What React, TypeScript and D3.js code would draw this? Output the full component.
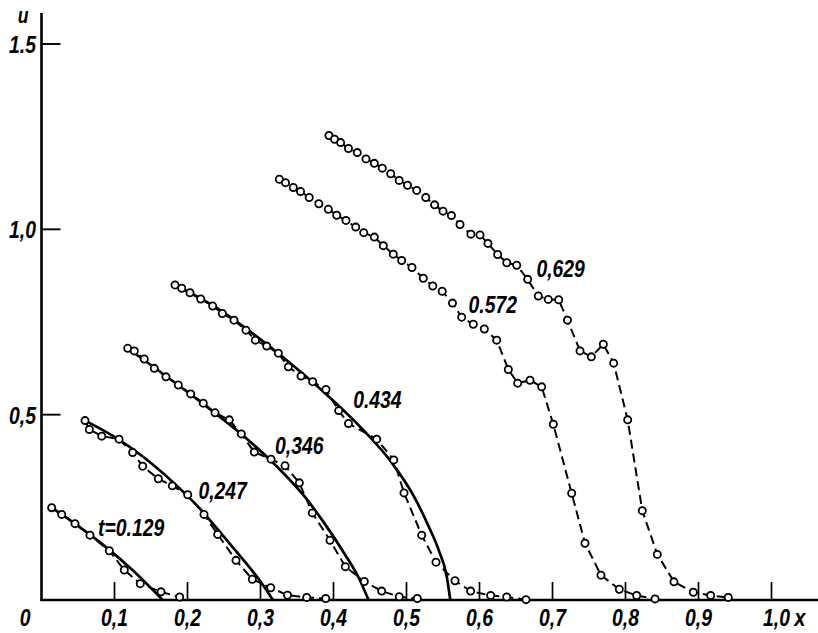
import React from "react";
import * as d3 from "d3";

// ---- data (x, u) ----
const xTicks = [0.1, 0.2, 0.3, 0.4, 0.5, 0.6, 0.7, 0.8, 0.9, 1.0];
const xTickLabels = ["0,1", "0,2", "0,3", "0,4", "0,5", "0,6", "0,7", "0,8", "0,9", "1,0"];
const yTicks = [0.5, 1.0, 1.5];
const yTickLabels = ["0,5", "1,0", "1.5"];

const t129: [number, number][] = [
  [0.014, 0.249], [0.0277, 0.231], [0.0459, 0.206], [0.0664, 0.175], [0.0929, 0.133],
  [0.1134, 0.081], [0.1353, 0.044], [0.1637, 0.022], [0.1893, 0.008],
];
const t129Exact: [number, number][] = [
  [0.014, 0.249], [0.05, 0.2], [0.09, 0.14], [0.125, 0.08], [0.15, 0.032], [0.166, 0],
];

const t247: [number, number][] = [
  [0.0596, 0.484], [0.0655, 0.46], [0.0825, 0.442], [0.1062, 0.434], [0.1249, 0.398],
  [0.1386, 0.361], [0.16, 0.327], [0.1792, 0.308], [0.2003, 0.284], [0.2226, 0.231],
  [0.2414, 0.177], [0.2664, 0.107], [0.2888, 0.056], [0.314, 0.033], [0.337, 0.013],
  [0.3633, 0.007], [0.3893, 0.004],
];
const t247Exact: [number, number][] = [
  [0.0596, 0.484], [0.1, 0.44], [0.14, 0.385], [0.18, 0.318], [0.22, 0.24],
  [0.25, 0.17], [0.28, 0.1], [0.3, 0.05], [0.317, 0],
];

const t346: [number, number][] = [
  [0.1181, 0.679], [0.1271, 0.672], [0.1408, 0.65], [0.1545, 0.625], [0.1705, 0.602],
  [0.1874, 0.58], [0.2044, 0.556], [0.2216, 0.531], [0.2377, 0.505], [0.2573, 0.486],
  [0.2737, 0.448], [0.2915, 0.399], [0.3144, 0.38], [0.3336, 0.362], [0.3532, 0.316],
  [0.371, 0.235], [0.3952, 0.161], [0.4162, 0.09], [0.4422, 0.05], [0.466, 0.024],
  [0.4901, 0.009], [0.5148, 0.004],
];
const t346Exact: [number, number][] = [
  [0.118, 0.679], [0.17, 0.605], [0.222, 0.528], [0.274, 0.447], [0.32, 0.365],
  [0.36, 0.28], [0.39, 0.2], [0.415, 0.125], [0.435, 0.058], [0.448, 0],
];

const t434: [number, number][] = [
  [0.1829, 0.85], [0.1921, 0.841], [0.2034, 0.829], [0.2181, 0.812], [0.2345, 0.793],
  [0.2477, 0.773], [0.2637, 0.755], [0.2801, 0.728], [0.2929, 0.701], [0.3085, 0.685],
  [0.3244, 0.666], [0.3381, 0.629], [0.3555, 0.604], [0.3715, 0.589], [0.3897, 0.568],
  [0.4071, 0.511], [0.4205, 0.476], [0.4592, 0.434], [0.4825, 0.378], [0.4966, 0.289],
  [0.5208, 0.175], [0.5404, 0.102], [0.5664, 0.052], [0.5879, 0.024], [0.6153, 0.012],
  [0.6373, 0.008], [0.6637, 0.001],
];
const t434Exact: [number, number][] = [
  [0.183, 0.85], [0.24, 0.788], [0.29, 0.718], [0.34, 0.64], [0.39, 0.555], [0.44, 0.46],
  [0.48, 0.37], [0.51, 0.28], [0.53, 0.2], [0.545, 0.13], [0.555, 0.065], [0.56, 0],
];

const t572: [number, number][] = [
  [0.3258, 1.135], [0.3342, 1.126], [0.3449, 1.113], [0.3548, 1.102], [0.3667, 1.086],
  [0.3799, 1.069], [0.3929, 1.054], [0.4044, 1.038], [0.4171, 1.024], [0.4305, 1.006],
  [0.4414, 0.991], [0.4559, 0.979], [0.4682, 0.956], [0.4819, 0.933], [0.4934, 0.916],
  [0.5075, 0.897], [0.523, 0.868], [0.536, 0.847], [0.5489, 0.833], [0.563, 0.801],
  [0.5756, 0.763], [0.5915, 0.744], [0.6066, 0.731], [0.6236, 0.701], [0.6395, 0.622],
  [0.6523, 0.585], [0.6692, 0.593], [0.6852, 0.575], [0.7011, 0.474], [0.7263, 0.288],
  [0.7445, 0.153], [0.7664, 0.067], [0.7915, 0.029], [0.8153, 0.012], [0.8404, 0.003],
];

const t629: [number, number][] = [
  [0.3938, 1.253], [0.4014, 1.243], [0.4097, 1.234], [0.4205, 1.218], [0.4326, 1.207],
  [0.4445, 1.19], [0.4559, 1.178], [0.4668, 1.165], [0.4784, 1.15], [0.49, 1.132],
  [0.5014, 1.119], [0.514, 1.105], [0.5264, 1.086], [0.5385, 1.066], [0.55, 1.049],
  [0.5616, 1.037], [0.5733, 1.013], [0.5882, 0.987], [0.6007, 0.985], [0.6116, 0.962],
  [0.6249, 0.932], [0.6373, 0.91], [0.651, 0.903], [0.666, 0.865], [0.6805, 0.82],
  [0.6942, 0.811], [0.7085, 0.81], [0.7205, 0.755], [0.7377, 0.672], [0.7532, 0.656],
  [0.7696, 0.69], [0.7838, 0.639], [0.803, 0.486], [0.823, 0.241], [0.8436, 0.123],
  [0.8664, 0.049], [0.8929, 0.021], [0.9167, 0.012], [0.9408, 0.007],
];

const measured = [t129, t247, t346, t434, t572, t629];
const exact = [t129Exact, t247Exact, t346Exact, t434Exact];
const curveLabels = ["t=0.129", "0,247", "0,346", "0.434", "0.572", "0,629"];
// label anchor in data coords (left, baseline)
const labelPos: [number, number][] = [
  [0.0775, 0.172], [0.215, 0.272], [0.32, 0.393], [0.427, 0.517], [0.585, 0.774], [0.678, 0.871],
];

const W = 818;
const H = 633;
const FONT = "'Liberation Sans', Arial, sans-serif";

function Lbl(props: { x: number; y: number; anchor?: string; size?: number; children: React.ReactNode }) {
  const { x, y, anchor = "start", size = 22, children } = props;
  return (
    <text
      transform={`translate(${x},${y}) scale(0.88,1.08)`}
      textAnchor={anchor as any}
      fontFamily={FONT}
      fontStyle="italic"
      fontWeight="bold"
      fontSize={size}
      fill="#000"
    >
      {children}
    </text>
  );
}

export default function App() {
  const x = d3.scaleLinear().domain([0, 1]).range([41.5, 771.5]);
  const y = d3.scaleLinear().domain([0, 1.5]).range([600, 44]);
  const lin = d3.line<[number, number]>().x((d) => x(d[0])).y((d) => y(d[1])).curve(d3.curveLinear);
  const smooth = d3
    .line<[number, number]>()
    .x((d) => x(d[0]))
    .y((d) => y(d[1]))
    .curve(d3.curveMonotoneX);

  return (
    <svg
      width={W}
      height={H}
      style={{ position: "absolute", left: 0, top: 0, background: "#fff" }}
    >
      <rect x={0} y={0} width={W} height={H} fill="#fff" />
      {/* axes */}
      <line x1={x(0)} x2={x(0)} y1={13} y2={601} stroke="#000" strokeWidth={2.6} />
      <line x1={x(0) - 1} x2={W} y1={y(0)} y2={y(0)} stroke="#000" strokeWidth={2.6} />
      {xTicks.map((t, i) => (
        <g key={"xt" + i}>
          <line x1={x(t)} x2={x(t)} y1={y(0)} y2={y(0) - 18} stroke="#000" strokeWidth={1.7} />
          <Lbl x={x(t) + (i === 9 ? 5 : 0)} y={626} anchor="middle">
            {xTickLabels[i]}
          </Lbl>
        </g>
      ))}
      <Lbl x={800} y={626} anchor="middle" size={23}>
        x
      </Lbl>
      <Lbl x={25} y={626} anchor="middle">
        0
      </Lbl>
      {yTicks.map((t, i) => (
        <g key={"yt" + i}>
          <line x1={x(0)} x2={x(0) + 19} y1={y(t)} y2={y(t)} stroke="#000" strokeWidth={1.9} />
          <Lbl x={36} y={y(t) + 9} anchor="end">
            {yTickLabels[i]}
          </Lbl>
        </g>
      ))}
      <Lbl x={23} y={23} anchor="middle" size={20}>
        u
      </Lbl>

      {/* exact solid curves */}
      {exact.map((s, i) => (
        <path key={"ex" + i} d={smooth(s) || ""} fill="none" stroke="#000" strokeWidth={2.7} />
      ))}
      {/* measured dashed curves */}
      {measured.map((s, i) => (
        <path
          key={"ms" + i}
          d={lin(s) || ""}
          fill="none"
          stroke="#000"
          strokeWidth={2}
          strokeDasharray="9,5"
        />
      ))}
      {measured.map((s, i) =>
        s.map((p, j) => (
          <circle
            key={"c" + i + "_" + j}
            cx={x(p[0])}
            cy={y(p[1])}
            r={3.6}
            fill="#fff"
            stroke="#000"
            strokeWidth={1.8}
          />
        ))
      )}
      {curveLabels.map((l, i) => (
        <Lbl key={"lb" + i} x={x(labelPos[i][0])} y={y(labelPos[i][1])}>
          {l}
        </Lbl>
      ))}
    </svg>
  );
}
